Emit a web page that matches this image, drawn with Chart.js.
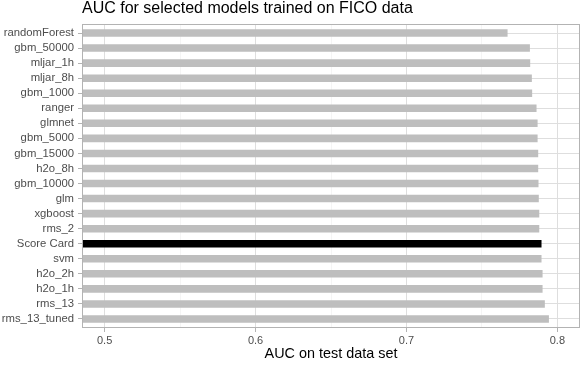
<!DOCTYPE html>
<html>
<head>
<meta charset="utf-8">
<script src="https://cdn.jsdelivr.net/npm/chart.js@4"></script>
<style>
  html, body { margin: 0; padding: 0; background: #fff; }
  #box { width: 581px; height: 365px; }
</style>
</head>
<body>
<div id="box"><canvas id="aucChart"></canvas></div>
<script>
// data
const models = ["randomForest", "gbm_50000", "mljar_1h", "mljar_8h", "gbm_1000", "ranger", "glmnet",
    "gbm_5000", "gbm_15000", "h2o_8h", "gbm_10000", "glm", "xgboost", "rms_2", "Score Card", "svm",
    "h2o_2h", "h2o_1h", "rms_13", "rms_13_tuned"];
const auc = [0.767, 0.7818, 0.782, 0.7831, 0.7833, 0.7862, 0.7869, 0.7869, 0.7873, 0.7873, 0.7875,
    0.7877, 0.788, 0.788, 0.7895, 0.7895, 0.7902, 0.7902, 0.7917, 0.7944];
const xTicks = [0.5, 0.55, 0.6, 0.65, 0.7, 0.75, 0.8];
const xMajor = [0.5, 0.6, 0.7, 0.8];
const xMin = 0.485, xMax = 0.815;
const highlight = "Score Card";

const isMajor = v => xMajor.some(m => Math.abs(m - v) < 1e-9);

Chart.defaults.font.family = "'Liberation Sans', Arial, sans-serif";

// ggplot theme_light style panel border
const panelBorder = {
    id: 'panelBorder',
    afterDatasetsDraw(chart) {
        const a = chart.chartArea, ctx = chart.ctx;
        ctx.save();
        ctx.strokeStyle = '#B3B3B3';
        ctx.lineWidth = 1;
        ctx.strokeRect(a.left + 0.5, a.top + 0.5, a.right - a.left - 1, a.bottom - a.top - 1);
        ctx.restore();
    }
};

new Chart(document.getElementById('aucChart'), {
    type: 'bar',
    data: {
        datasets: [{
            // y is the row index so the axis can get ggplot's 0.6 expansion
            data: auc.map((v, i) => ({ x: v, y: i })),
            base: xMin,
            backgroundColor: models.map(m => m === highlight ? '#000000' : '#BEBEBE'),
            barPercentage: 0.5,
            categoryPercentage: 1
        }]
    },
    options: {
        indexAxis: 'y',
        responsive: true,
        maintainAspectRatio: false,
        animation: false,
        layout: { padding: { top: 0, right: 1, bottom: 0, left: 0 } },
        scales: {
            x: {
                type: 'linear',
                min: xMin,
                max: xMax,
                afterBuildTicks(scale) {
                    scale.ticks = xTicks.map(v => ({ value: v }));
                },
                afterFit(scale) { scale.height = 37; },
                ticks: {
                    color: '#4D4D4D',
                    font: { size: 11 },
                    padding: 2,
                    maxRotation: 0,
                    callback: v => isMajor(v) ? String(v) : ''
                },
                grid: {
                    color: ctx => isMajor(ctx.tick.value) ? '#DEDEDE' : '#EEEEEE',
                    lineWidth: ctx => isMajor(ctx.tick.value) ? 1 : 0.6,
                    tickColor: ctx => isMajor(ctx.tick.value) ? '#B3B3B3' : 'rgba(0,0,0,0)',
                    tickLength: 4
                },
                border: { display: false },
                title: {
                    display: true,
                    text: 'AUC on test data set',
                    color: '#000000',
                    font: { size: 14.4 },
                    padding: { top: 0, bottom: 2 }
                }
            },
            y: {
                type: 'linear',
                reverse: true,
                offset: false,
                min: -0.6,
                max: models.length - 0.4,
                afterBuildTicks(scale) {
                    scale.ticks = models.map((m, i) => ({ value: i }));
                },
                afterFit(scale) { scale.width = 82; },
                ticks: {
                    color: '#4D4D4D',
                    font: { size: 11.3 },
                    padding: 4,
                    autoSkip: false,
                    callback: v => models[v]
                },
                grid: {
                    offset: false,
                    color: '#DEDEDE',
                    tickColor: '#B3B3B3',
                    tickLength: 4
                },
                border: { display: false }
            }
        },
        plugins: {
            legend: { display: false },
            tooltip: { enabled: false },
            title: {
                display: true,
                text: 'AUC for selected models trained on FICO data',
                align: 'start',
                fullSize: false,
                color: '#000000',
                font: { size: 16, weight: 'normal', lineHeight: 1 },
                padding: { top: 1, bottom: 7 }
            }
        }
    },
    plugins: [panelBorder]
});
</script>
</body>
</html>
